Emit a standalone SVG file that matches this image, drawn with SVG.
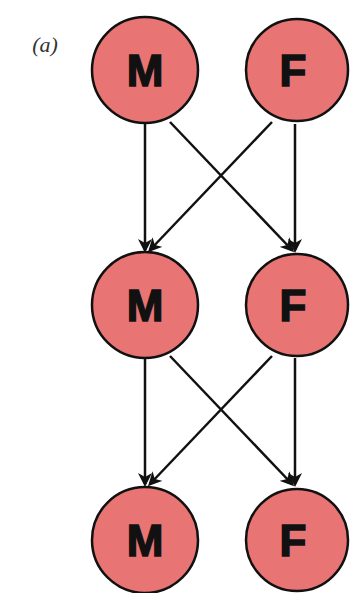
<svg xmlns="http://www.w3.org/2000/svg" width="350" height="593" viewBox="0 0 350 593">
<style>
.n{fill:#e87474;stroke:#111;stroke-width:2.5}
.t{font-family:"Liberation Sans",Arial,sans-serif;font-weight:bold;font-size:44px;fill:#111;stroke:#111;stroke-width:1.5;text-anchor:middle}
.e{stroke:#111;stroke-width:2.5;fill:none}
</style>
<defs>
<marker id="ah" markerWidth="14" markerHeight="14" refX="11" refY="7" orient="auto" markerUnits="userSpaceOnUse" viewBox="0 0 14 14">
<path d="M0,0 L14,7 L0,14 L4,7 Z" fill="#111"/>
</marker>
</defs>
<rect width="350" height="593" fill="#fff"/>
<text x="45" y="52" font-family="Liberation Serif,serif" font-style="italic" font-size="22" fill="#333" text-anchor="middle">(a)</text>
<g id="edges">
<line class="e" x1="145" y1="124" x2="145" y2="250" marker-end="url(#ah)"/>
<line class="e" x1="170" y1="122" x2="292" y2="250" marker-end="url(#ah)"/>
<line class="e" x1="272" y1="122" x2="150" y2="250" marker-end="url(#ah)"/>
<line class="e" x1="295" y1="124" x2="295" y2="250" marker-end="url(#ah)"/>
<line class="e" x1="145" y1="358" x2="145" y2="484" marker-end="url(#ah)"/>
<line class="e" x1="170" y1="356" x2="292" y2="484" marker-end="url(#ah)"/>
<line class="e" x1="272" y1="356" x2="150" y2="484" marker-end="url(#ah)"/>
<line class="e" x1="295" y1="358" x2="295" y2="484" marker-end="url(#ah)"/>
</g>
<g id="m1"><circle class="n" cx="145" cy="70" r="53"/><text class="t" x="145" y="86">M</text></g>
<g id="f1"><circle class="n" cx="297" cy="70" r="51"/><text class="t" x="293" y="86">F</text></g>
<g id="m2"><circle class="n" cx="145" cy="305" r="53"/><text class="t" x="145" y="321">M</text></g>
<g id="f2"><circle class="n" cx="297" cy="305" r="51"/><text class="t" x="293" y="321">F</text></g>
<g id="m3"><circle class="n" cx="145" cy="540" r="53"/><text class="t" x="145" y="556">M</text></g>
<g id="f3"><circle class="n" cx="297" cy="540" r="51"/><text class="t" x="293" y="556">F</text></g>
</svg>
